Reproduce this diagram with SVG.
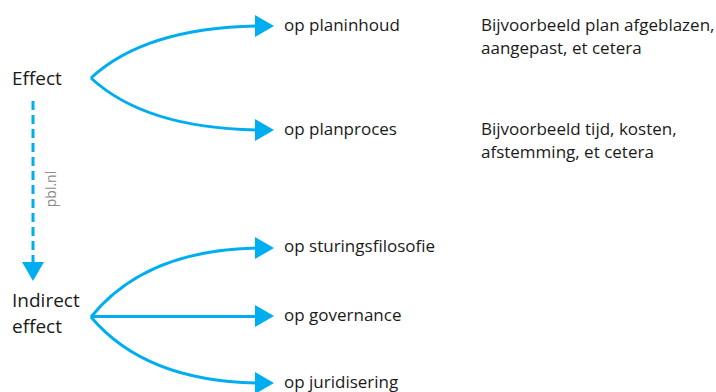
<svg xmlns="http://www.w3.org/2000/svg" width="716" height="392" viewBox="0 0 716 392">
<style>
.t{font-family:"Open Sans","Noto Sans",sans-serif;font-size:17px;fill:#1a1a1a}
.b{font-size:19px}
.c{fill:none;stroke:#00aeef;stroke-width:3}
.h{fill:#00aeef}
.w{font-family:"Open Sans","Noto Sans",sans-serif;font-size:14px;fill:#8a8a8a}
</style>
<rect width="716" height="392" fill="#fff"/>
<g id="connectors">
<path class="c" d="M91,78 Q145,28 257,26"/>
<polygon class="h" points="255,15 274,26 255,37"/>
<path class="c" d="M91,78 Q145,128 257,130"/>
<polygon class="h" points="255,119 274,130 255,141"/>
<path class="c" d="M91,317 Q145,250 257,248"/>
<polygon class="h" points="255,237 274,248 255,259"/>
<path class="c" d="M91,316.5 L257,316.5"/>
<polygon class="h" points="255,305 274,316 255,327"/>
<path class="c" d="M91,317 Q145,381 257,383"/>
<polygon class="h" points="255,372 274,383 255,394"/>
<path class="c" d="M33,101 L33,263" stroke-dasharray="9 5"/>
<polygon class="h" points="22,262 44,262 33,281"/>
<text class="w" transform="translate(56,189) rotate(-90)" text-anchor="middle">pbl.nl</text>
</g>
<g id="effect"><text class="t b" x="12" y="85">Effect</text></g>
<g id="indirect"><text class="t b" x="12" y="307">Indirect</text><text class="t b" x="12" y="333">effect</text></g>
<g id="planinhoud"><text class="t" x="284" y="31">op planinhoud</text></g>
<g id="planproces"><text class="t" x="284" y="135">op planproces</text></g>
<g id="sturing"><text class="t" x="284" y="252">op sturingsfilosofie</text></g>
<g id="governance"><text class="t" x="284" y="321">op governance</text></g>
<g id="juridisering"><text class="t" x="284" y="388">op juridisering</text></g>
<g id="voorbeeld1"><text class="t" x="481" y="31">Bijvoorbeeld plan afgeblazen,</text><text class="t" x="481" y="54">aangepast, et cetera</text></g>
<g id="voorbeeld2"><text class="t" x="481" y="135">Bijvoorbeeld tijd, kosten,</text><text class="t" x="481" y="158">afstemming, et cetera</text></g>
</svg>
